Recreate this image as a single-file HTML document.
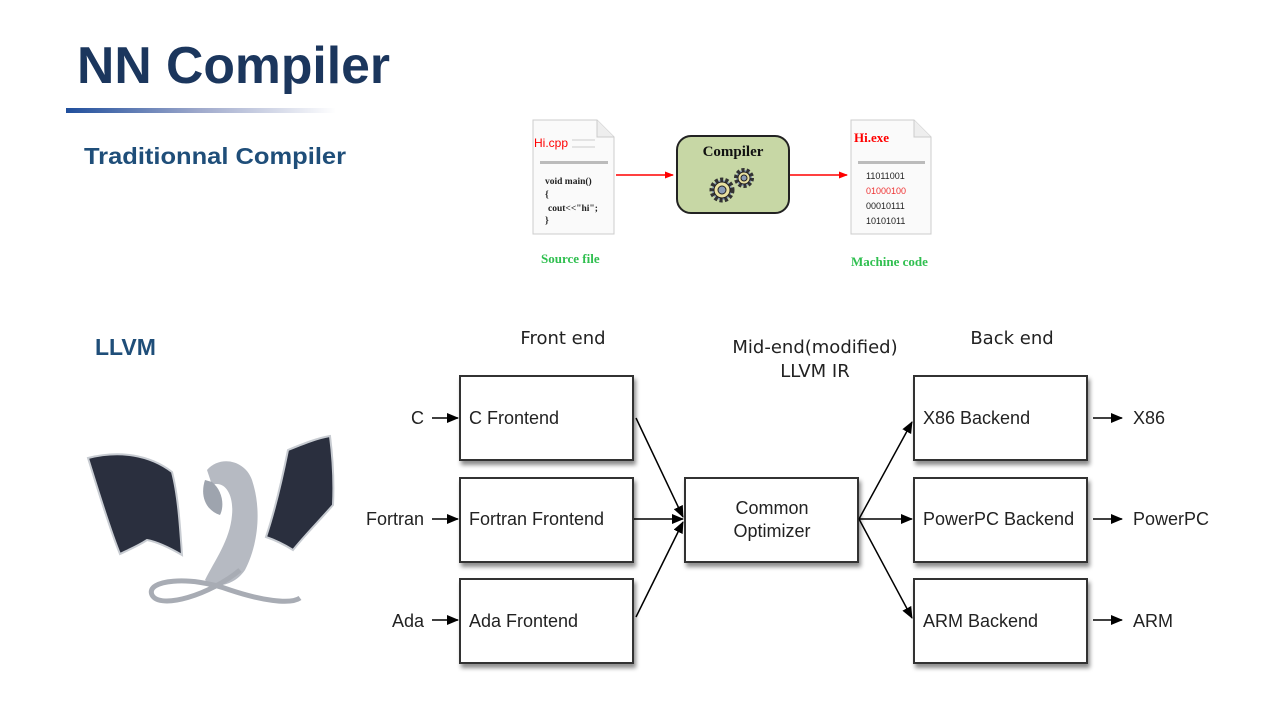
<!DOCTYPE html>
<html><head><meta charset="utf-8"><style>
html,body{margin:0;padding:0;background:#fff;}
svg{display:block;}
</style></head><body>
<svg width="1280" height="720" viewBox="0 0 1280 720" xmlns="http://www.w3.org/2000/svg" font-family="Liberation Sans, sans-serif">
<defs>
<linearGradient id="bar" x1="0" x2="1" y1="0" y2="0">
<stop offset="0" stop-color="#1f4e9c"/><stop offset="0.5" stop-color="#a0aacc"/><stop offset="1" stop-color="#ffffff"/>
</linearGradient>
<filter id="sh" x="-10%" y="-10%" width="130%" height="140%"><feDropShadow dx="2" dy="4" stdDeviation="2" flood-color="#000" flood-opacity="0.45"/></filter>
<marker id="ar" markerWidth="12" markerHeight="10" refX="11" refY="5" orient="auto" markerUnits="userSpaceOnUse"><path d="M0,0 L12,5 L0,10z" fill="#000"/></marker>
<marker id="rr" markerWidth="9" markerHeight="7" refX="8" refY="3.5" orient="auto" markerUnits="userSpaceOnUse"><path d="M0,0 L9,3.5 L0,7z" fill="#f00"/></marker>
</defs>

<text x="77" y="83" font-size="52" font-weight="bold" fill="#1b365d" textLength="313" lengthAdjust="spacingAndGlyphs">NN Compiler</text>
<rect x="66" y="108" width="270" height="5" fill="url(#bar)"/>
<text x="84" y="164" font-size="23" font-weight="bold" fill="#1f4e79" textLength="262" lengthAdjust="spacingAndGlyphs">Traditionnal Compiler</text>
<text x="95" y="355" font-size="23" font-weight="bold" fill="#1f4e79">LLVM</text>

<!-- source file -->
<g>
<path d="M533,120 L597,120 L614,137 L614,234 L533,234z" fill="#fafafa" stroke="#ccc"/>
<path d="M597,120 L597,137 L614,137" fill="#eee" stroke="#ccc"/>
<text x="534" y="147" font-size="12" fill="#f00">Hi.cpp</text>
<line x1="572" y1="140" x2="595" y2="140" stroke="#ccc"/><line x1="572" y1="147" x2="595" y2="147" stroke="#ccc"/>
<rect x="540" y="161" width="68" height="3" fill="#bbb"/>
<g font-family="Liberation Serif" font-weight="bold" font-size="9.5" fill="#222">
<text x="545" y="184">void main()</text><text x="545" y="197">{</text><text x="548" y="211">cout&lt;&lt;"hi";</text><text x="545" y="223">}</text></g>
</g>
<text x="541" y="263" font-size="13" font-weight="bold" fill="#2fbf4f" font-family="Liberation Serif">Source file</text>
<line x1="616" y1="175" x2="673" y2="175" stroke="#f00" stroke-width="1.5" marker-end="url(#rr)"/>
<rect x="677" y="136" width="112" height="77" rx="14" fill="#c7d7a5" stroke="#222" stroke-width="2"/>
<text x="733" y="156" text-anchor="middle" font-family="Liberation Serif" font-weight="bold" font-size="15" fill="#111">Compiler</text>
<g fill="#8a9bb5" stroke="#222" stroke-width="1">
<circle cx="722" cy="190" r="10" stroke-dasharray="3 2" stroke-width="5" stroke="#333"/>
<circle cx="722" cy="190" r="8" fill="#e8e0a0"/><circle cx="722" cy="190" r="4"/>
<circle cx="744" cy="178" r="8" stroke-dasharray="3 2" stroke-width="4" stroke="#333"/>
<circle cx="744" cy="178" r="6" fill="#e8e0a0"/><circle cx="744" cy="178" r="3"/>
</g>
<line x1="790" y1="175" x2="847" y2="175" stroke="#f00" stroke-width="1.5" marker-end="url(#rr)"/>
<g>
<path d="M851,120 L914,120 L931,137 L931,234 L851,234z" fill="#fafafa" stroke="#ccc"/>
<path d="M914,120 L914,137 L931,137" fill="#eee" stroke="#ccc"/>
<text x="854" y="142" font-size="13" font-weight="bold" fill="#f00" font-family="Liberation Serif">Hi.exe</text>
<rect x="858" y="161" width="67" height="3" fill="#bbb"/>
<g font-size="9" fill="#222"><text x="866" y="179">11011001</text><text x="866" y="194" fill="#e33">01000100</text><text x="866" y="209">00010111</text><text x="866" y="224">10101011</text></g>
</g>
<text x="851" y="266" font-size="13" font-weight="bold" fill="#2fbf4f" font-family="Liberation Serif">Machine code</text>

<!-- dragon approximation -->
<g>
<path d="M88,458 C120,450 150,455 172,472 C178,495 180,525 182,555 C170,548 158,542 147,540 C138,546 128,550 120,554 C110,530 98,490 88,458z" fill="#2a2f3e" stroke="#c8ccd2" stroke-width="2"/>
<path d="M288,450 C305,443 318,438 330,436 C333,460 334,485 333,505 C320,520 305,535 293,550 C285,545 275,540 266,537 C275,510 282,480 288,450z" fill="#2a2f3e" stroke="#c8ccd2" stroke-width="2"/>
<path d="M207,470 C220,455 245,460 252,480 C262,510 258,545 245,570 C235,585 215,590 205,580 C215,560 230,540 232,515 C234,495 225,480 212,485z" fill="#b6bac2"/>
<path d="M205,480 C200,495 205,510 220,515 C225,505 222,490 212,482z" fill="#9ea4ae"/>
<path d="M240,570 C210,595 160,610 152,595 C145,580 190,575 230,590 C260,600 290,605 300,598" stroke="#a8acb4" stroke-width="5" fill="none"/>
</g>

<!-- LLVM diagram labels -->
<g font-family="DejaVu Sans, sans-serif" font-size="18" fill="#222">
<text x="563" y="344" text-anchor="middle">Front end</text>
<text x="815" y="353" text-anchor="middle">Mid-end(modified)</text>
<text x="815" y="377" text-anchor="middle">LLVM IR</text>
<text x="1012" y="344" text-anchor="middle">Back end</text>
</g>

<g filter="url(#sh)" fill="#fff" stroke="#333" stroke-width="2">
<rect x="460" y="376" width="173" height="84"/>
<rect x="460" y="478" width="173" height="84"/>
<rect x="460" y="579" width="173" height="84"/>
<rect x="685" y="478" width="173" height="84"/>
<rect x="914" y="376" width="173" height="84"/>
<rect x="914" y="478" width="173" height="84"/>
<rect x="914" y="579" width="173" height="84"/>
</g>
<g font-size="18" fill="#222">
<text x="469" y="424">C Frontend</text>
<text x="469" y="525">Fortran Frontend</text>
<text x="469" y="627">Ada Frontend</text>
<text x="772" y="514" text-anchor="middle">Common</text>
<text x="772" y="537" text-anchor="middle">Optimizer</text>
<text x="923" y="424">X86 Backend</text>
<text x="923" y="525">PowerPC Backend</text>
<text x="923" y="627">ARM Backend</text>
<text x="424" y="424" text-anchor="end">C</text>
<text x="424" y="525" text-anchor="end">Fortran</text>
<text x="424" y="627" text-anchor="end">Ada</text>
<text x="1133" y="424">X86</text>
<text x="1133" y="525">PowerPC</text>
<text x="1133" y="627">ARM</text>
</g>
<g stroke="#000" stroke-width="1.5" marker-end="url(#ar)">
<line x1="432" y1="418" x2="458" y2="418"/>
<line x1="432" y1="519" x2="458" y2="519"/>
<line x1="432" y1="620" x2="458" y2="620"/>
<line x1="636" y1="418" x2="683" y2="517"/>
<line x1="634" y1="519" x2="683" y2="519"/>
<line x1="636" y1="617" x2="683" y2="522"/>
<line x1="859" y1="519" x2="912" y2="422"/>
<line x1="859" y1="519" x2="912" y2="519"/>
<line x1="859" y1="519" x2="912" y2="618"/>
<line x1="1093" y1="418" x2="1122" y2="418"/>
<line x1="1093" y1="519" x2="1122" y2="519"/>
<line x1="1093" y1="620" x2="1122" y2="620"/>
</g>
</svg>
</body></html>
